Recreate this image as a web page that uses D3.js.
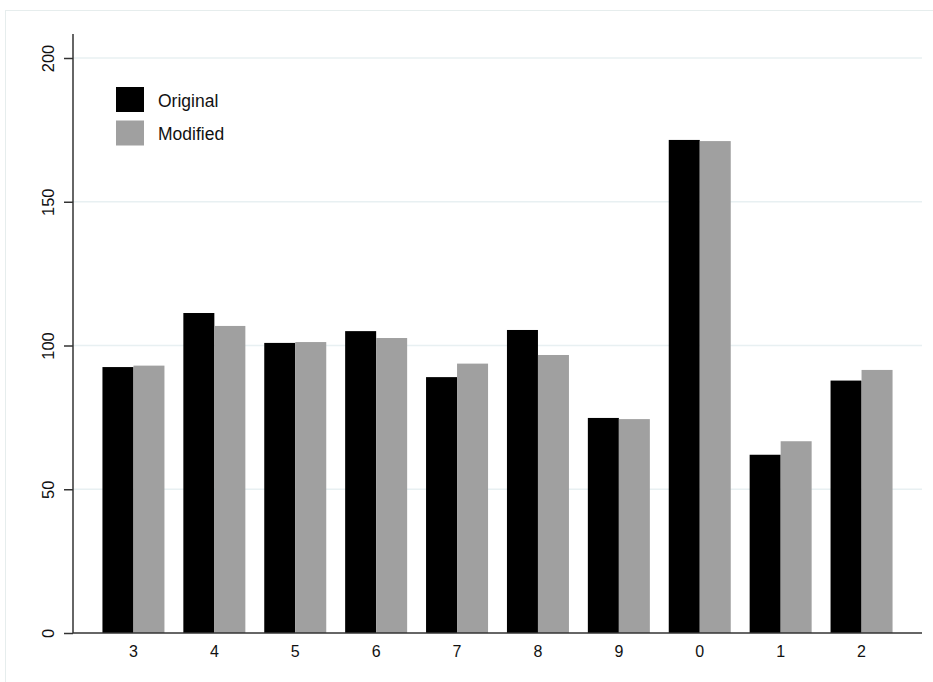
<!DOCTYPE html>
<html><head><meta charset="utf-8">
<script src="https://cdn.jsdelivr.net/npm/d3@7"></script>
<style>html,body{margin:0;padding:0;background:#fff;}svg{display:block;}</style>
</head><body>
<script>
const categories = ["3","4","5","6","7","8","9","0","1","2"];
const original = [92.5, 111.3, 100.9, 105.0, 89.0, 105.4, 74.8, 171.5, 62.0, 87.8];
const modified = [93.0, 106.8, 101.2, 102.6, 93.7, 96.7, 74.4, 171.1, 66.7, 91.5];
const seriesNames = ["Original", "Modified"];
const seriesColors = ["#000000", "#a0a0a0"];
const yTicks = [0, 50, 100, 150, 200];

(function() {
const W = 933, H = 682;
const svg = d3.select("body").append("svg").attr("width", W).attr("height", H);
const font = "'Liberation Sans', Arial, Helvetica, sans-serif";

// outer frame
svg.append("rect").attr("x", 5.5).attr("y", 10.5).attr("width", 940).attr("height", 690)
  .attr("fill", "#fff").attr("stroke", "#e6eded").attr("stroke-width", 1);

const pLeft = 73, pRight = 922, pTop = 34, pBottom = 633;
const y = d3.scaleLinear().domain([0, 200]).range([pBottom, 58]);
const x0 = d3.scaleBand().domain(categories).range([pLeft, pRight]).paddingInner(0.2336).paddingOuter(0.364);
const x1 = d3.scaleBand().domain(seriesNames).range([0, x0.bandwidth()]).padding(0);

// gridlines
svg.append("g").selectAll("line").data(yTicks.filter(d => d > 0)).join("line")
  .attr("x1", pLeft).attr("x2", pRight).attr("y1", d => y(d)).attr("y2", d => y(d))
  .attr("stroke", "#e8f0f2").attr("stroke-width", 1.5);

// bars
const data = categories.map((c, i) => ({c, vals: [original[i], modified[i]]}));
const groups = svg.append("g").selectAll("g").data(data).join("g")
  .attr("transform", d => `translate(${x0(d.c)},0)`);
groups.selectAll("rect").data(d => d.vals.map((v, j) => ({name: seriesNames[j], v, j}))).join("rect")
  .attr("x", d => x1(d.name)).attr("width", x1.bandwidth())
  .attr("y", d => y(d.v)).attr("height", d => pBottom - y(d.v))
  .attr("fill", d => seriesColors[d.j]);

// y axis
const yAxis = svg.append("g").attr("transform", `translate(${pLeft},0)`)
  .call(d3.axisLeft(y).tickValues(yTicks).tickSize(9).tickPadding(10));
yAxis.select(".domain").remove();
yAxis.append("line").attr("x1", 0).attr("x2", 0).attr("y1", pTop).attr("y2", pBottom).attr("stroke", "#333").attr("stroke-width", 1.5);
yAxis.selectAll(".tick line").attr("stroke", "#333").attr("stroke-width", 1.5);
yAxis.selectAll(".tick text").attr("font-family", font).attr("font-size", 16.5).attr("fill", "#111")
  .attr("transform", "rotate(-90, -19, 0)")
  .attr("x", -19).attr("dy", 0).attr("text-anchor", "middle");

// x axis
const xAxis = svg.append("g").attr("transform", `translate(0,${pBottom})`)
  .call(d3.axisBottom(x0).tickSize(0).tickPadding(13));
xAxis.select(".domain").remove();
xAxis.append("line").attr("x1", pLeft).attr("x2", pRight).attr("y1", 0).attr("y2", 0).attr("stroke", "#333").attr("stroke-width", 1.5);
xAxis.selectAll(".tick text").attr("font-family", font).attr("font-size", 16).attr("fill", "#111");

// legend
const legend = svg.append("g");
seriesNames.forEach((n, i) => {
  const g = legend.append("g").attr("transform", `translate(116,${87 + i * 33.5})`);
  g.append("rect").attr("width", 28).attr("height", 25).attr("fill", seriesColors[i]);
  g.append("text").attr("x", 42).attr("y", 19.5).attr("font-family", font).attr("font-size", 17.5)
    .attr("fill", "#111").text(n);
});
})();
</script>
</body></html>
